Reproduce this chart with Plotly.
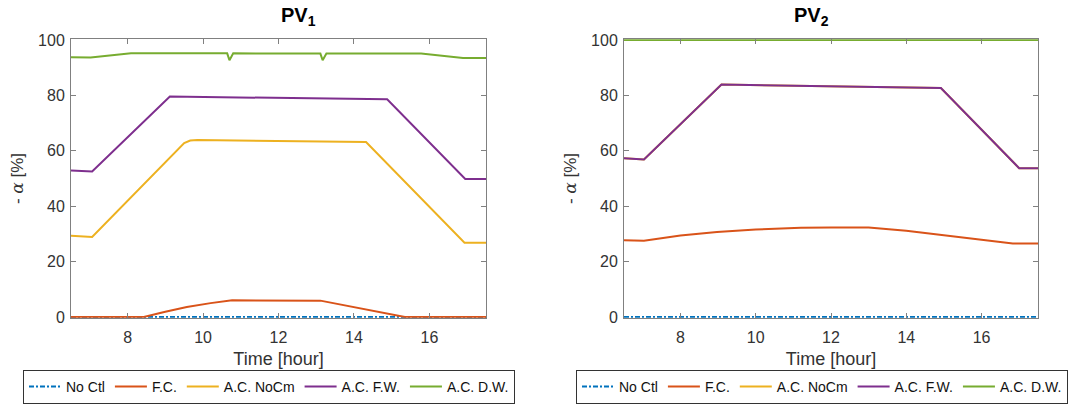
import plotly.graph_objects as go

# ---------------- data ----------------
series_names = ["No Ctl", "F.C.", "A.C. NoCm", "A.C. F.W.", "A.C. D.W."]
x_ticks = [8, 10, 12, 14, 16]
y_ticks = [0, 20, 40, 60, 80, 100]

# PV1
pv1_noctl_t = [6.5, 17.5]
pv1_noctl_v = [0, 0]
pv1_fc_t = [6.5, 8.43, 9.0, 9.57, 10.2, 10.77, 13.11, 13.6, 14.19, 14.8, 15.35, 17.5]
pv1_fc_v = [0, 0, 1.9, 3.6, 5.0, 6.0, 5.9, 4.6, 3.0, 1.5, 0, 0]
pv1_nocm_t = [6.5, 7.06, 9.5, 9.66, 9.85, 14.32, 16.93, 17.5]
pv1_nocm_v = [29.3, 28.9, 62.8, 63.7, 63.9, 63.2, 26.8, 26.8]
pv1_fw_t = [6.5, 7.06, 9.12, 14.88, 16.95, 17.5]
pv1_fw_v = [52.9, 52.5, 79.6, 78.6, 49.8, 49.8]
pv1_dw_t = [6.5, 7.02, 8.09, 10.64, 10.70, 10.80, 13.11, 13.17, 13.27, 15.78, 16.89, 17.5]
pv1_dw_v = [93.8, 93.7, 95.2, 95.2, 92.7, 95.2, 95.1, 92.7, 95.1, 95.1, 93.5, 93.5]

# PV2
pv2_noctl_t = [6.5, 17.5]
pv2_noctl_v = [0, 0]
pv2_fc_t = [6.5, 7.03, 8.0, 8.97, 10.0, 11.2, 12.0, 13.0, 14.0, 14.96, 16.0, 16.83, 17.5]
pv2_fc_v = [27.7, 27.5, 29.4, 30.7, 31.6, 32.2, 32.3, 32.3, 31.1, 29.6, 27.7, 26.5, 26.5]
pv2_nocm_t = [6.5, 7.03, 9.09, 14.92, 17.0, 17.5]
pv2_nocm_v = [57.3, 56.9, 83.9, 82.7, 53.7, 53.7]
pv2_fw_t = [6.5, 7.03, 9.09, 14.92, 17.0, 17.5]
pv2_fw_v = [57.3, 56.9, 83.9, 82.7, 53.7, 53.7]
pv2_dw_t = [6.5, 17.5]
pv2_dw_v = [100, 100]

colors = ["#0072BD", "#D95319", "#EDB120", "#7E2F8E", "#77AC30"]
dashes = ["5px,2px,2px,2px", "solid", "solid", "solid", "solid"]

FONT = "Liberation Sans, Arial, Helvetica, sans-serif"
TXT = "#333333"
AX = "#808080"

fig = go.Figure()

pv1 = [(pv1_noctl_t, pv1_noctl_v), (pv1_fc_t, pv1_fc_v), (pv1_nocm_t, pv1_nocm_v),
       (pv1_fw_t, pv1_fw_v), (pv1_dw_t, pv1_dw_v)]
pv2 = [(pv2_noctl_t, pv2_noctl_v), (pv2_fc_t, pv2_fc_v), (pv2_nocm_t, pv2_nocm_v),
       (pv2_fw_t, pv2_fw_v), (pv2_dw_t, pv2_dw_v)]

for i, (t, v) in enumerate(pv1):
    fig.add_trace(go.Scatter(x=t, y=v, mode="lines", name=series_names[i],
                             line=dict(color=colors[i], width=2, dash=dashes[i]),
                             xaxis="x", yaxis="y", legend="legend"))
for i, (t, v) in enumerate(pv2):
    fig.add_trace(go.Scatter(x=t, y=v, mode="lines", name=series_names[i],
                             line=dict(color=colors[i], width=2, dash=dashes[i]),
                             xaxis="x2", yaxis="y2", legend="legend2"))

H = 408.0
W = 1086.0
ydom = [1 - 317.8 / H, 1 - 39.2 / H]

def xax(dom, anchor):
    return dict(domain=dom, anchor=anchor, range=[6.5, 17.5], tickvals=x_ticks,
                ticks="inside", ticklen=5, tickcolor=AX, showline=True, linecolor=AX,
                linewidth=1, mirror="ticks", showgrid=False, zeroline=False,
                automargin=False, ticklabelstandoff=5,
                tickfont=dict(family=FONT, size=16, color=TXT),
                title=dict(text="Time [hour]", font=dict(family=FONT, size=18, color=TXT),
                           standoff=7))

def yax(anchor):
    return dict(domain=ydom, anchor=anchor, range=[-0.3, 100.3], tickvals=y_ticks,
                ticks="inside", ticklen=5, tickcolor=AX, showline=True, linecolor=AX,
                linewidth=1, mirror="ticks", showgrid=False, zeroline=False,
                automargin=False, ticklabelstandoff=2,
                tickfont=dict(family=FONT, size=16, color=TXT),
                title=dict(text="- <span style='font-family:DejaVu Serif'><i>α</i></span> [%]",
                           font=dict(family=FONT, size=17, color=TXT),
                           standoff=10))

leg_common = dict(orientation="h", bgcolor="white", bordercolor="#333333", borderwidth=1,
                  font=dict(family=FONT, size=14, color="#111111"), itemwidth=32,
                  yanchor="bottom", xanchor="left", y=4 / H, tracegroupgap=0)

fig.update_layout(
    width=1086, height=408,
    margin=dict(l=0, r=0, t=0, b=0),
    paper_bgcolor="white", plot_bgcolor="white",
    xaxis=xax([71 / W, 486 / W], "y"),
    yaxis=yax("x"),
    xaxis2=xax([624 / W, 1038 / W], "y2"),
    yaxis2=yax("x2"),
    legend=dict(**leg_common, x=23 / W),
    legend2=dict(**leg_common, x=576 / W),
    annotations=[
        dict(text="<b>PV<sub>1</sub></b>", x=(71 + 486) / 2 / W, y=1 - 17 / H,
             xref="paper", yref="paper", showarrow=False, yanchor="middle",
             font=dict(family=FONT, size=20, color="#000000")),
        dict(text="<b>PV<sub>2</sub></b>", x=(624 + 1038) / 2 / W, y=1 - 17 / H,
             xref="paper", yref="paper", showarrow=False, yanchor="middle",
             font=dict(family=FONT, size=20, color="#000000")),
    ],
)

fig.write_html("out.html", config={"displayModeBar": False},
               post_script="document.body.style.margin='0';")
